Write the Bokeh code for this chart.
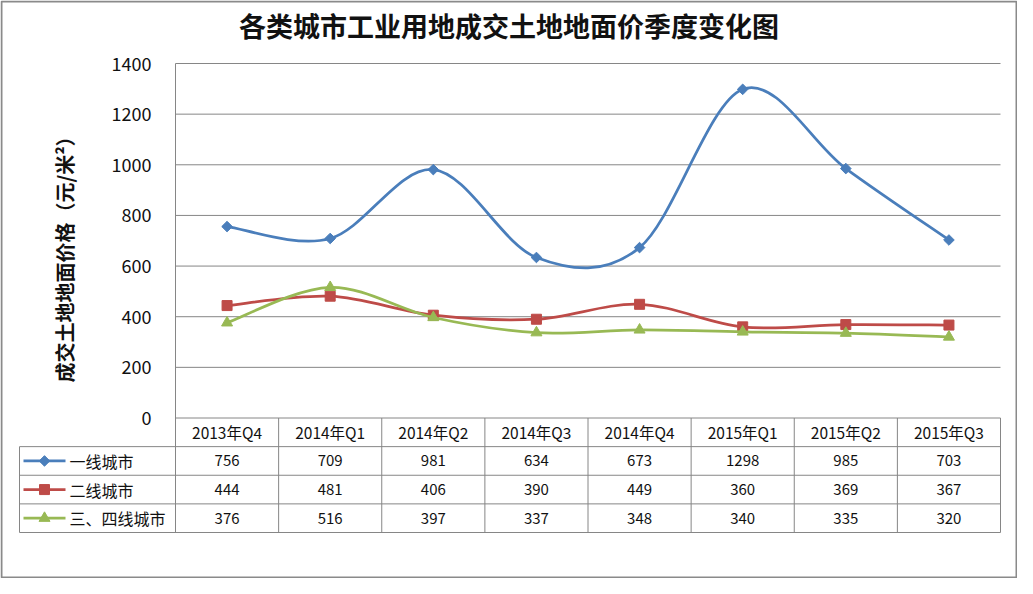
import numpy as np
from bokeh.plotting import figure
from bokeh.models import Range1d
from bokeh.core.properties import value
from bokeh.embed import file_html
from bokeh.resources import INLINE

# ---------------- data ----------------
title = "各类城市工业用地成交土地地面价季度变化图"
y_label = "成交土地地面价格（元/米²）"
categories = ["2013年Q4", "2014年Q1", "2014年Q2", "2014年Q3",
              "2014年Q4", "2015年Q1", "2015年Q2", "2015年Q3"]
series_names = ["一线城市", "二线城市", "三、四线城市"]
tier1 = [756, 709, 981, 634, 673, 1298, 985, 703]
tier2 = [444, 481, 406, 390, 449, 360, 369, 367]
tier3 = [376, 516, 397, 337, 348, 340, 335, 320]
y_ticks = [0, 200, 400, 600, 800, 1000, 1200, 1400]

colors = ["#4A7EBB", "#BE4B48", "#98B954"]
markers = ["square", "square", "triangle"]
marker_sizes = [7.5, 10, 11]
marker_angles = [np.pi / 4, 0, 0]

# ---------------- layout ----------------
W, H = 1017, 578
PL, PR, PT, PB = 175.0, 1000.0, 63.0, 417.5
YMAX = 1400.0
n = len(categories)
cw = (PR - PL) / n
s = (PB - PT) / YMAX
ROW_H = 28.625
TBL_L = 19.0
GRID = "#868686"
FONT = value("Noto Sans CJK SC")


def xdata(px):
    return (px - PL) / cw - 0.5


p = figure(width=W, height=H, output_backend="svg", toolbar_location=None,
           x_range=Range1d(xdata(0), xdata(W)),
           y_range=Range1d(-(H - PB) / s, PB / s),
           x_axis_type=None, y_axis_type=None, min_border=0,
           outline_line_color=None, background_fill_color="white",
           border_fill_color="white")
p.grid.visible = False
p.extra_x_ranges = {"px": Range1d(0, W)}
p.extra_y_ranges = {"px": Range1d(H, 0)}

# outer chart-area border
p.quad(left=[1], right=[W - 1], top=[1], bottom=[H - 1], fill_color=None,
       line_color="#8A8A8A", line_width=2, x_range_name="px", y_range_name="px")

# title
p.text(x=[W / 2], y=[25], text=[title], text_font=FONT, text_font_size="27px",
       text_font_style="bold", text_align="center", text_baseline="middle",
       text_color="#111111", x_range_name="px", y_range_name="px")

# y axis label
p.text(x=[64], y=[254], text=[y_label], angle=np.pi / 2, text_font=FONT,
       text_font_size="20px", text_font_style="bold", text_align="center",
       text_baseline="middle", text_color="#111111",
       x_range_name="px", y_range_name="px")

# gridlines (incl. 0 line = table header top)
p.segment(x0=[-0.5] * len(y_ticks), x1=[n - 0.5] * len(y_ticks),
          y0=y_ticks, y1=y_ticks, line_color=GRID, line_width=1)
# y axis line
p.segment(x0=[-0.5], x1=[-0.5], y0=[0], y1=[y_ticks[-1]], line_color=GRID, line_width=1)

# y tick labels
p.text(x=[xdata(151)] * len(y_ticks), y=y_ticks, text=[str(t) for t in y_ticks],
       text_font=FONT, text_font_size="18px", text_align="right",
       text_baseline="middle", text_color="#111111")

# ---------------- data table ----------------
row_lines = [PB + k * ROW_H for k in range(5)]
row_mid = [PB + (k + 0.5) * ROW_H for k in range(4)]
# horizontal lines of the body rows
p.segment(x0=[TBL_L] * 4, x1=[PR] * 4, y0=row_lines[1:], y1=row_lines[1:],
          line_color=GRID, line_width=1, x_range_name="px", y_range_name="px")
# vertical separators between categories
bounds = [i - 0.5 for i in range(n + 1)]
p.segment(x0=bounds, x1=bounds, y0=[row_lines[0]] * len(bounds),
          y1=[row_lines[4]] * len(bounds), line_color=GRID, line_width=1,
          y_range_name="px")
# left border of legend column
p.segment(x0=[TBL_L], x1=[TBL_L], y0=[row_lines[1]], y1=[row_lines[4]],
          line_color=GRID, line_width=1, x_range_name="px", y_range_name="px")

# category header
p.text(x=list(range(n)), y=[row_mid[0]] * n, text=categories, text_font=FONT,
       text_font_size="15.5px", text_align="center", text_baseline="middle",
       text_color="#111111", y_range_name="px")

series = [tier1, tier2, tier3]


def bezier_segments(vals):
    pts = [(float(i), float(v)) for i, v in enumerate(vals)]
    m = len(pts)
    out = {k: [] for k in ("x0", "y0", "x1", "y1", "cx0", "cy0", "cx1", "cy1")}
    for i in range(m - 1):
        p0 = pts[max(i - 1, 0)]
        p1 = pts[i]
        p2 = pts[i + 1]
        p3 = pts[min(i + 2, m - 1)]
        out["x0"].append(p1[0]); out["y0"].append(p1[1])
        out["x1"].append(p2[0]); out["y1"].append(p2[1])
        out["cx0"].append(p1[0] + (p2[0] - p0[0]) / 6)
        out["cy0"].append(p1[1] + (p2[1] - p0[1]) / 6)
        out["cx1"].append(p2[0] - (p3[0] - p1[0]) / 6)
        out["cy1"].append(p2[1] - (p3[1] - p1[1]) / 6)
    return out


for k, (vals, name, col, mk, ms, ma) in enumerate(
        zip(series, series_names, colors, markers, marker_sizes, marker_angles)):
    b = bezier_segments(vals)
    p.bezier(line_color=col, line_width=2.75, **b)
    p.scatter(x=list(range(n)), y=vals, marker=mk, size=ms, angle=ma,
              fill_color=col, line_color=col)
    ym = row_mid[k + 1]
    # table values
    p.text(x=list(range(n)), y=[ym] * n, text=[str(v) for v in vals],
           text_font=FONT, text_font_size="15px", text_align="center",
           text_baseline="middle", text_color="#111111", y_range_name="px")
    # legend key in table
    p.segment(x0=[23], x1=[65], y0=[ym], y1=[ym], line_color=col, line_width=2.75,
              x_range_name="px", y_range_name="px")
    p.scatter(x=[44], y=[ym], marker=mk, size=ms, angle=ma, fill_color=col,
              line_color=col, x_range_name="px", y_range_name="px")
    p.text(x=[69], y=[ym], text=[name], text_font=FONT, text_font_size="16px",
           text_align="left", text_baseline="middle", text_color="#111111",
           x_range_name="px", y_range_name="px")

open("out.html", "w").write(file_html(p, INLINE))
